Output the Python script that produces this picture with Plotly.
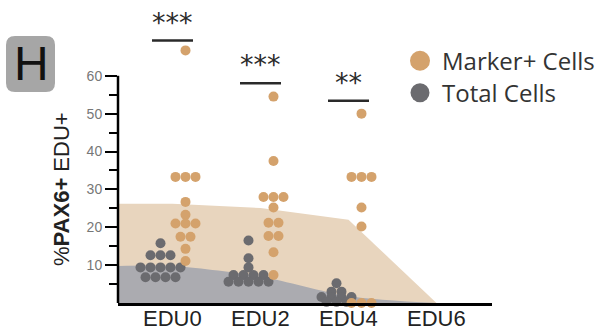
import numpy as np
import plotly.graph_objects as go

# ---- data -------------------------------------------------------------
categories = ["EDU0", "EDU2", "EDU4", "EDU6"]

marker_edu0 = [66.7, 33.3, 33.3, 33.3, 26.7, 23.3, 21.0, 21.0, 21.0, 17.5, 17.5, 14.3, 11.1]
marker_edu2 = [54.5, 37.5, 28.0, 28.0, 28.0, 25.2, 21.2, 21.2, 17.7, 17.7, 13.4, 7.4]
marker_edu4 = [50.0, 33.3, 33.3, 33.3, 25.2, 20.2, 0.0, 0.0, 0.0]

total_edu0 = [15.8, 12.6, 12.6, 12.6, 9.4, 9.4, 9.4, 9.4, 9.4, 6.8, 6.8, 6.8, 6.8]
total_edu2 = [16.5, 11.8, 9.4, 7.4, 7.4, 7.4, 7.4, 5.6, 5.6, 5.6, 5.6, 5.6]
total_edu4 = [5.2, 3.0, 3.0, 1.6, 1.6, 1.6, 1.6, 0.3, 0.3, 0.3]

# group averages shown as shaded bands
marker_mean = [26.2, 25.1, 22.0, 0.0]
total_mean = [9.8, 7.0, 1.8, 0.0]

sig_labels = ["***", "***", "**"]
sig_line_y = [69.3, 58.0, 53.4]

y_ticks = [10, 20, 30, 40, 50, 60]
y_minor = [5, 15, 25, 35, 45, 55]

# ---- styling ----------------------------------------------------------
W, H = 599, 330
ML, MR, MT, MB = 118, 107, 10, 27
PW, PH = W - ML - MR, H - MT - MB
PX_PER_CAT = 88.0
X_RANGE = [-54.5 / PX_PER_CAT, -54.5 / PX_PER_CAT + PW / PX_PER_CAT]
Y_PX_PER_UNIT = 3.787
Y_RANGE = [0, PH / Y_PX_PER_UNIT]

TAN_FILL = "#E8D5BE"
GREY_FILL = "#ABABB0"
ORANGE = "#D4A26C"
DARK_GREY = "#6B6B6F"
INK = "#222222"

DOT_STEP = 10.0 / PX_PER_CAT
MARKER_SHIFT = 13.0 / PX_PER_CAT
TOTAL_SHIFT = -12.0 / PX_PER_CAT


def px_to_paper(px, py):
    return (px - ML) / PW, (H - MB - py) / PH


def swarm_offsets(values, step):
    vals = np.asarray(values)
    offs = np.zeros(len(vals))
    for v in np.unique(vals):
        idx = np.where(vals == v)[0]
        offs[idx] = (np.arange(len(idx)) - (len(idx) - 1) / 2) * step
    return offs


fig = go.Figure()

# shaded mean bands, extended to the y axis on the left
band_x = [X_RANGE[0]] + list(range(len(categories)))
fig.add_trace(go.Scatter(
    x=band_x, y=[marker_mean[0]] + marker_mean, mode="lines",
    line=dict(width=0, color=TAN_FILL), fill="tozeroy", fillcolor=TAN_FILL,
    hoverinfo="skip", showlegend=False))
fig.add_trace(go.Scatter(
    x=band_x, y=[total_mean[0]] + total_mean, mode="lines",
    line=dict(width=0, color=GREY_FILL, shape="spline", smoothing=0.8),
    fill="tozeroy", fillcolor=GREY_FILL, hoverinfo="skip", showlegend=False))

# individual data points
for i, (tot, mk) in enumerate([(total_edu0, marker_edu0),
                               (total_edu2, marker_edu2),
                               (total_edu4, marker_edu4)]):
    fig.add_trace(go.Scatter(
        x=i + TOTAL_SHIFT + swarm_offsets(tot, DOT_STEP), y=tot, mode="markers",
        marker=dict(size=10, color=DARK_GREY, line=dict(width=0)),
        cliponaxis=False, showlegend=False, name="Total Cells"))
    fig.add_trace(go.Scatter(
        x=i + MARKER_SHIFT + swarm_offsets(mk, DOT_STEP), y=mk, mode="markers",
        marker=dict(size=10, color=ORANGE, line=dict(width=0)),
        cliponaxis=False, showlegend=False, name="Marker+ Cells"))

shapes = []
annotations = []

# y axis line stops at the top tick
shapes.append(dict(type="line", xref="paper", yref="y", x0=0, x1=0,
                   y0=0, y1=y_ticks[-1], line=dict(color="black", width=2.5)))

# category labels under the x axis
for i, cat in enumerate(categories):
    annotations.append(dict(x=i, y=0, xref="x", yref="paper", text=cat,
                            showarrow=False, xanchor="center", yanchor="top",
                            yshift=-1,
                            font=dict(family="Liberation Sans", size=22, color=INK)))

# significance bars
for i, (lab, ly) in enumerate(zip(sig_labels, sig_line_y)):
    shapes.append(dict(type="line", xref="x", yref="y",
                       x0=i - 0.233, x1=i + 0.233, y0=ly, y1=ly,
                       line=dict(color="#2a2a2a", width=2.5)))
    annotations.append(dict(x=i, y=ly, xref="x", yref="y", text=lab,
                            showarrow=False, yanchor="bottom", yshift=1,
                            font=dict(family="DejaVu Sans", size=27, color="#2a2a2a")))

# legend
for cy, col, label, d in [(60.7, ORANGE, "Marker+ Cells", 20), (92.8, DARK_GREY, "Total Cells", 19)]:
    ax, ay = px_to_paper(420, cy)
    shapes.append(dict(type="circle", xref="paper", yref="paper",
                       xsizemode="pixel", ysizemode="pixel", xanchor=ax, yanchor=ay,
                       x0=-d / 2, x1=d / 2, y0=-d / 2, y1=d / 2,
                       fillcolor=col, line=dict(width=0)))
    tx, ty = px_to_paper(440, cy)
    annotations.append(dict(x=tx, y=ty, xref="paper", yref="paper", text=label,
                            showarrow=False, xanchor="left", yanchor="middle",
                            font=dict(family="Open Sans", size=24, color="#333333")))

# panel letter badge
x0, y0, x1, y1, r = 6, 36, 55, 92, 9
pts = [px_to_paper(*p) for p in [(x0 + r, y0), (x1 - r, y0), (x1, y0), (x1, y0 + r),
                                 (x1, y1 - r), (x1, y1), (x1 - r, y1), (x0 + r, y1),
                                 (x0, y1), (x0, y1 - r), (x0, y0 + r), (x0, y0)]]
path = ("M {0[0]},{0[1]} L {1[0]},{1[1]} Q {2[0]},{2[1]} {3[0]},{3[1]} "
        "L {4[0]},{4[1]} Q {5[0]},{5[1]} {6[0]},{6[1]} L {7[0]},{7[1]} "
        "Q {8[0]},{8[1]} {9[0]},{9[1]} L {10[0]},{10[1]} Q {11[0]},{11[1]} {0[0]},{0[1]} Z").format(*pts)
shapes.append(dict(type="path", xref="paper", yref="paper", path=path,
                   fillcolor="#A6A6A6", line=dict(width=0), layer="above"))
hx, hy = px_to_paper(31, 64)
annotations.append(dict(x=hx, y=hy, xref="paper", yref="paper", text="H",
                        showarrow=False, xanchor="center", yanchor="middle",
                        font=dict(family="Liberation Sans", size=48, color="#111111")))

# y axis title
tx, ty = px_to_paper(61, 189)
annotations.append(dict(x=tx, y=ty, xref="paper", yref="paper",
                        text="%<b>PAX6+</b> EDU+", textangle=-90, showarrow=False,
                        xanchor="center", yanchor="middle",
                        font=dict(family="Liberation Sans", size=22, color=INK)))

fig.update_layout(
    width=W, height=H,
    margin=dict(l=ML, r=MR, t=MT, b=MB, autoexpand=False),
    plot_bgcolor="white", paper_bgcolor="white",
    shapes=shapes, annotations=annotations,
    xaxis=dict(range=X_RANGE, tickmode="array", tickvals=list(range(len(categories))),
               showticklabels=False, showgrid=False, zeroline=False,
               showline=True, linecolor="black", linewidth=2.5, ticks=""),
    yaxis=dict(range=Y_RANGE, tickmode="array", tickvals=y_ticks, showgrid=False,
               zeroline=False, showline=False, ticks="outside", ticklen=12,
               tickwidth=2, tickcolor="black",
               minor=dict(tickmode="array", tickvals=y_minor, ticks="outside",
                          ticklen=8, tickwidth=2, tickcolor="black"),
               tickfont=dict(family="Liberation Sans", size=14, color="#777777")),
)

fig.write_html("out.html")
